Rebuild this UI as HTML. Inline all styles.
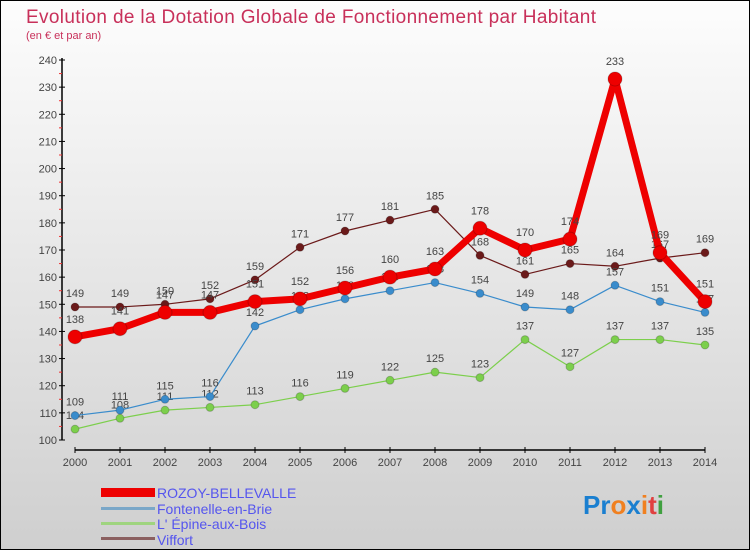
<!DOCTYPE html>
<html><head><meta charset="utf-8"><style>
body{margin:0}
#wrap{width:750px;height:550px;position:relative;box-sizing:border-box;border:1px solid #000;background:linear-gradient(#fdfdfd,#cfcfcf);font-family:"Liberation Sans",sans-serif;overflow:hidden}
</style></head><body>
<div id="wrap">
<svg id="svg" width="750" height="550" style="position:absolute;left:-1px;top:-1px">
<text x="26" y="23" font-size="19" fill="#c8305a" textLength="570">Evolution de la Dotation Globale de Fonctionnement par Habitant</text>
<text x="26" y="39" font-size="11" fill="#c8305a">(en € et par an)</text>
<g id="axes"></g><g id="series"></g>
<g>
<rect x="101" y="488" width="54" height="9" fill="#e00"/>
<text x="157" y="498" font-size="14" fill="#5555ee">ROZOY-BELLEVALLE</text>
<rect x="101" y="507" width="54" height="3" fill="#7aa7c8"/>
<text x="157" y="514" font-size="14" fill="#5555ee">Fontenelle-en-Brie</text>
<rect x="101" y="522" width="54" height="3" fill="#9fd47f"/>
<text x="157" y="529" font-size="14" fill="#5555ee">L' Épine-aux-Bois</text>
<rect x="101" y="537" width="54" height="3" fill="#8b6060"/>
<text x="157" y="545" font-size="14" fill="#5555ee">Viffort</text>
</g>
<text x="583" y="514" font-size="26" font-weight="bold"><tspan fill="#1a7fd0">Pr</tspan><tspan fill="#f08020">o</tspan><tspan fill="#1a7fd0">x</tspan><tspan fill="#f08020">i</tspan><tspan fill="#e04040">t</tspan><tspan fill="#40a040">i</tspan></text>
</svg>
</div>
<script>
const years=[2000,2001,2002,2003,2004,2005,2006,2007,2008,2009,2010,2011,2012,2013,2014];
const yTicks=[100,110,120,130,140,150,160,170,180,190,200,210,220,230,240];
const rozoy=[138,141,147,147,151,152,156,160,163,178,170,174,233,169,151];
const fontenelle=[109,111,115,116,142,148,152,155,158,154,149,148,157,151,147];
const epine=[104,108,111,112,113,116,119,122,125,123,137,127,137,137,135];
const viffort=[149,149,150,152,159,171,177,181,185,168,161,165,164,167,169];
const NS="http://www.w3.org/2000/svg";
const X=i=>75+i*45, Y=v=>440-(v-100)*(380/140);
function mk(t,a,p){const e=document.createElementNS(NS,t);for(const k in a)e.setAttribute(k,a[k]);p.appendChild(e);return e;}
const ax=document.getElementById('axes');
const yl=mk('line',{x1:62,y1:58,x2:62,y2:440,stroke:'#000','stroke-width':1.5},ax);


yTicks.forEach(v=>{
 mk('line',{x1:59,x2:65,y1:Y(v),y2:Y(v),stroke:'#000'},ax);
 if(v<240)mk('line',{x1:59,x2:62,y1:Y(v+5),y2:Y(v+5),stroke:'#e33'},ax);
 const t=mk('text',{x:57,y:Y(v)+4,'font-size':11,fill:'#444','text-anchor':'end'},ax);t.textContent=v;
 
 
});
const xl=mk('line',{x1:75,y1:450,x2:705,y2:450,stroke:'#000','stroke-width':1.5},ax);


years.forEach((y,i)=>{
 mk('line',{x1:X(i),x2:X(i),y1:447,y2:453,stroke:'#000'},ax);
 const t=mk('text',{x:X(i),y:466,'font-size':11,fill:'#444','text-anchor':'middle'},ax);t.textContent=y;
 
 
});
const sg=document.getElementById('series');
function series(d,col,w,r,name){
 const g=mk('g',{},sg);
 
 
 mk('polyline',{points:d.map((v,i)=>X(i)+','+Y(v)).join(' '),fill:'none',stroke:col,'stroke-width':w,'stroke-linejoin':'round'},g);
 d.forEach((v,i)=>{
  const c=mk('circle',{cx:X(i),cy:Y(v),r:r,fill:col,stroke:'rgba(0,0,0,0.2)'},g);
  
  
  const t=mk('text',{x:X(i),y:Y(v)-10-(r>5?4:0),'font-size':11,fill:'#444','text-anchor':'middle'},g);t.textContent=v;
  
  
 });
}
series(viffort,'#6b1a1a',1.2,4,'viffort-series');
series(epine,'#7ccf4c',1.2,4,'epine-series');
series(fontenelle,'#3a8ccc',1.2,4,'fontenelle-series');
series(rozoy,'#ee0000',7,7,'rozoy-series');
</script>
</body></html>
